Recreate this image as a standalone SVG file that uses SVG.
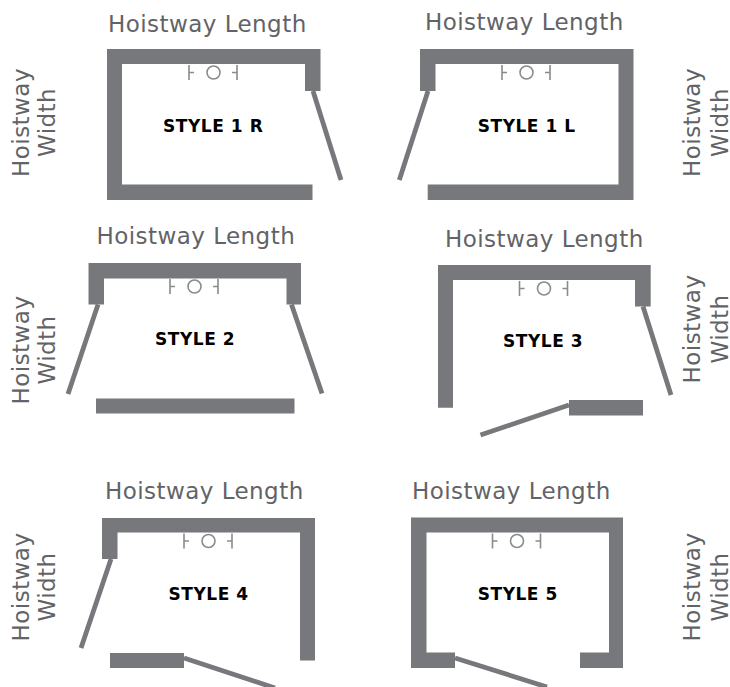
<svg xmlns="http://www.w3.org/2000/svg" width="730" height="687" viewBox="0 0 730 687">
<style>
.w{fill:#77787b}
.d{stroke:#77787b;stroke-width:4.8;fill:none}
.s{stroke:#8a8b8e;stroke-width:1.6;fill:none}
.t{font-family:"DejaVu Sans",Verdana,sans-serif;font-size:23px;letter-spacing:.45px;fill:#626366}
.m{text-anchor:middle}
.b{font-family:"DejaVu Sans",Verdana,sans-serif;font-size:17px;letter-spacing:.55px;font-weight:bold;fill:#000}
</style>
<defs>
<g id="sym">
<path class="s" d="M0 0V15M0 7.500H5M48 0V15M48 7.500H43"/>
<circle class="s" cx="24.500" cy="7.500" r="6.500"/>
</g>
</defs>
<rect width="730" height="687" fill="#fff"/>
<g id="style-1r">
<path class="w" d="M107 49H320.500V91H305V64H122V184.500H312.500V200H107Z"/>
<path class="d" d="M313 91L341 180"/>
<use href="#sym" x="189" y="65"/>
<text class="t" x="108" y="32">Hoistway Length</text>
<text class="t m" transform="translate(28.500 122.500) rotate(-90)">Hoistway</text>
<text class="t m" transform="translate(55 122.500) rotate(-90)">Width</text>
<text class="b" x="163" y="132">STYLE 1 R</text>
</g>
<g id="style-1l">
<path class="w" d="M420 49H633.500V200H427.700V184.500H618.500V64H435.500V91H420Z"/>
<path class="d" d="M428 91L399.300 180"/>
<use href="#sym" x="502" y="65"/>
<text class="t" x="425" y="30">Hoistway Length</text>
<text class="t m" transform="translate(700 122.500) rotate(-90)">Hoistway</text>
<text class="t m" transform="translate(728 122.500) rotate(-90)">Width</text>
<text class="b" x="477.700" y="132">STYLE 1 L</text>
</g>
<g id="style-2">
<path class="w" d="M88.500 263H301V304.500H286.500V278.500H104V304.500H88.500Z"/>
<rect class="w" x="96" y="398.500" width="198.500" height="15"/>
<path class="d" d="M98 304.500L68 394M291.500 304.500L322 393.500"/>
<use href="#sym" x="170" y="279"/>
<text class="t" x="96.500" y="244">Hoistway Length</text>
<text class="t m" transform="translate(28.500 350) rotate(-90)">Hoistway</text>
<text class="t m" transform="translate(55 350) rotate(-90)">Width</text>
<text class="b" x="155" y="345">STYLE 2</text>
</g>
<g id="style-3">
<path class="w" d="M438 265H650.700V306.500H635V280H453V407.700H438Z"/>
<rect class="w" x="569" y="400" width="74" height="15.500"/>
<path class="d" d="M643 306.500L671 395M569 405L480.500 435"/>
<use href="#sym" x="519.500" y="281"/>
<text class="t" x="445" y="247">Hoistway Length</text>
<text class="t m" transform="translate(700 329) rotate(-90)">Hoistway</text>
<text class="t m" transform="translate(728 329) rotate(-90)">Width</text>
<text class="b" x="503" y="347">STYLE 3</text>
</g>
<g id="style-4">
<path class="w" d="M102 518H315V660.500H300V532.500H117.500V559H102Z"/>
<rect class="w" x="110" y="653" width="74" height="15"/>
<path class="d" d="M111 559L81 648M184 658L275 688"/>
<use href="#sym" x="184" y="533.500"/>
<text class="t" x="105" y="499">Hoistway Length</text>
<text class="t m" transform="translate(28.500 587) rotate(-90)">Hoistway</text>
<text class="t m" transform="translate(55 587) rotate(-90)">Width</text>
<text class="b" x="168.500" y="600">STYLE 4</text>
</g>
<g id="style-5">
<path class="w" d="M411 517.500H623V668H580V652.500H609V532.500H426.500V652.500H455V668H411Z"/>
<path class="d" d="M455 658L547 687"/>
<use href="#sym" x="492.500" y="533.500"/>
<text class="t" x="412" y="499">Hoistway Length</text>
<text class="t m" transform="translate(700 587) rotate(-90)">Hoistway</text>
<text class="t m" transform="translate(728 587) rotate(-90)">Width</text>
<text class="b" x="477.700" y="600">STYLE 5</text>
</g>
</svg>
